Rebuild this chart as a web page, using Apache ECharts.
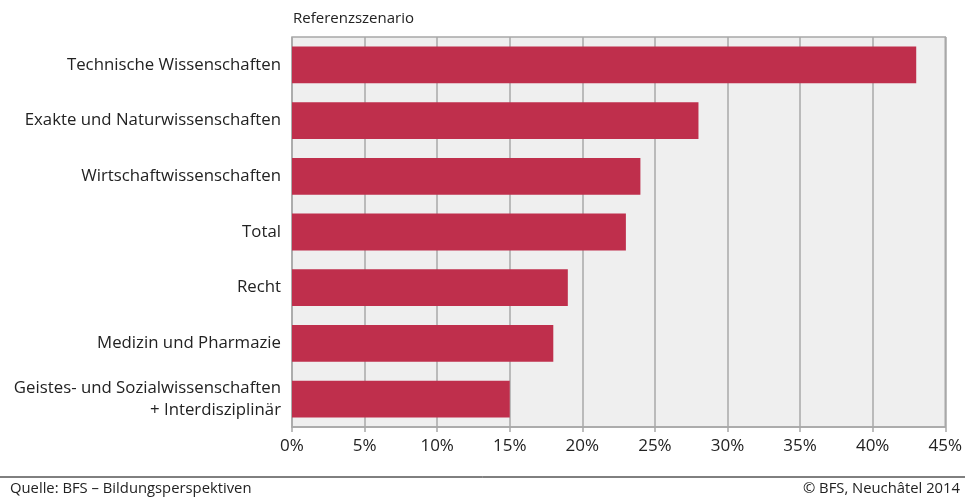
<!DOCTYPE html>
<html>
<head>
<meta charset="utf-8">
<script src="https://cdn.jsdelivr.net/npm/echarts@6/dist/echarts.min.js"></script>
<style>
html, body { margin: 0; padding: 0; background: #fff; }
#chart { width: 965px; height: 499px; }
</style>
</head>
<body>
<div id="chart"></div>
<script>
// Fields of study, listed top to bottom
const categories = [
  'Technische Wissenschaften',
  'Exakte und Naturwissenschaften',
  'Wirtschaftwissenschaften',
  'Total',
  'Recht',
  'Medizin und Pharmazie',
  'Geistes- und Sozialwissenschaften\n+ Interdisziplinär'
];
// Share in percent, Referenzszenario
const values = [43, 28, 24, 23, 19, 18, 15];

const FONT = 'Open Sans';
const chart = echarts.init(document.getElementById('chart'), null, { renderer: 'canvas' });

chart.setOption({
  animation: false,
  textStyle: { fontFamily: FONT },
  grid: { left: 292, right: 19, top: 37, bottom: 72, show: true, backgroundColor: '#efefef', borderColor: '#a8a8a8', borderWidth: 1.5 },
  title: {
    text: 'Referenzszenario', left: 288, top: 6,
    textStyle: { fontFamily: FONT, fontSize: 15, fontWeight: 'normal', color: '#222' }
  },
  xAxis: {
    type: 'value', min: 0, max: 45, interval: 5,
    axisLine: { show: true, lineStyle: { color: '#a8a8a8', width: 1.5 } },
    axisTick: { show: true, length: 5, lineStyle: { color: '#a8a8a8', width: 1.5 } },
    splitLine: { show: true, lineStyle: { color: '#a8a8a8', width: 1.5 } },
    axisLabel: { formatter: '{value}%', fontSize: 17, color: '#222', margin: 11, fontFamily: FONT }
  },
  yAxis: {
    type: 'category', data: categories, inverse: true,
    axisLine: { show: false }, axisTick: { show: false },
    axisLabel: { fontSize: 16.8, color: '#222', margin: 11, lineHeight: 22, align: 'right', fontFamily: FONT }
  },
  series: [{
    type: 'bar', data: values, barWidth: '66%',
    itemStyle: { color: '#bf2f4c' }
  }],
  graphic: [
    { type: 'line', shape: { x1: 0, y1: 477, x2: 965, y2: 477 }, style: { stroke: '#000', lineWidth: 1 } },
    { type: 'text', left: 10, top: 481, style: { text: 'Quelle: BFS – Bildungsperspektiven', font: '14.8px "Open Sans"', fill: '#222' } },
    { type: 'text', right: 5, top: 481, style: { text: '© BFS, Neuchâtel 2014', font: '14.8px "Open Sans"', fill: '#222' } }
  ]
});
</script>
</body>
</html>
